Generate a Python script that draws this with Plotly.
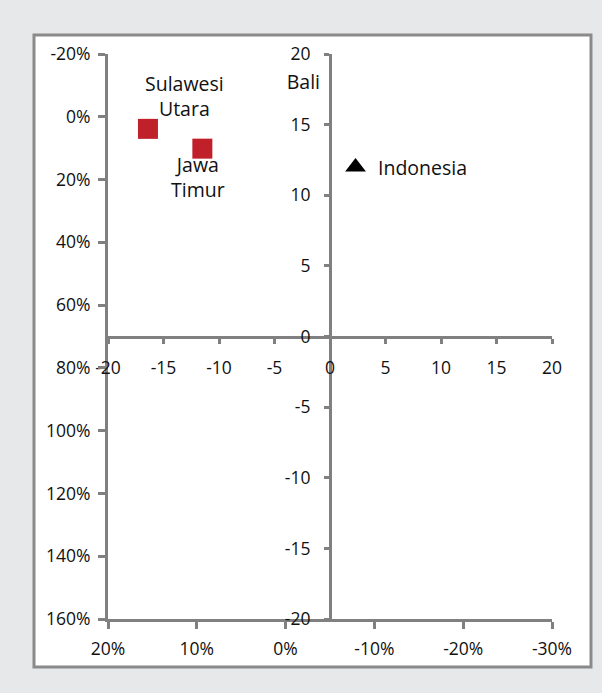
import plotly.graph_objects as go

# --- data ---
regions = ["Sulawesi Utara", "Jawa Timur"]
region_x = [-16.4, -11.5]
region_y = [14.7, 13.3]
national = ["Indonesia"]
national_x = [2.3]
national_y = [12.0]
bali_label = ["Bali"]
bali_x = [-2.4]
bali_y = [17.9]

center_ticks = [-20, -15, -10, -5, 0, 5, 10, 15, 20]
pct_x_ticks = [0.2, 0.1, 0.0, -0.1, -0.2, -0.3]
pct_y_ticks = [-0.2, 0.0, 0.2, 0.4, 0.6, 0.8, 1.0, 1.2, 1.4, 1.6]

center_text = [str(v) for v in center_ticks]
pct_x_text = [f"{round(v * 100)}%" for v in pct_x_ticks]
pct_y_text = [f"{round(v * 100)}%" for v in pct_y_ticks]

GRAY = "#808080"
RED = "#c0202a"
FONT = dict(family="'Open Sans', Lato, sans-serif", size=17.5, color="#111111")
LABEL_FONT = dict(family="'Open Sans', Lato, sans-serif", size=19.5, color="#111111")

fig = go.Figure()

# dummy trace to instantiate the secondary (percent) axes
fig.add_trace(go.Scatter(x=[], y=[], xaxis="x2", yaxis="y2", showlegend=False, hoverinfo="skip"))

fig.add_trace(go.Scatter(
    x=region_x, y=region_y, mode="markers", name="Regions",
    marker=dict(symbol="square", size=20, color=RED), showlegend=False))
fig.add_trace(go.Scatter(
    x=national_x, y=national_y, mode="markers", name="Indonesia",
    marker=dict(symbol="triangle-up", size=18, color="#000000"), showlegend=False))
fig.add_trace(go.Scatter(
    x=bali_x, y=bali_y, mode="text", text=bali_label, textfont=LABEL_FONT,
    showlegend=False))

annotations = []
offsets = {"Sulawesi Utara": (37, 33, "Sulawesi<br>Utara"),
           "Jawa Timur": (-4, -28, "Jawa<br>Timur")}
for name, x, y in zip(regions, region_x, region_y):
    dx, dy, txt = offsets[name]
    annotations.append(dict(x=x, y=y, xref="x", yref="y", text=txt, showarrow=False,
                            xshift=dx, yshift=dy, align="center", font=LABEL_FONT))
for name, x, y in zip(national, national_x, national_y):
    annotations.append(dict(x=x, y=y, xref="x", yref="y", text=name, showarrow=False,
                            xanchor="left", xshift=20, font=LABEL_FONT))

axis_common = dict(showline=True, linecolor=GRAY, linewidth=3, ticks="outside",
                   tickcolor=GRAY, tickwidth=3, showgrid=False, zeroline=False,
                   tickfont=FONT, fixedrange=True)

fig.update_layout(
    width=602, height=693,
    margin=dict(l=108, r=50, t=54, b=74),
    paper_bgcolor="#e7e8ea",
    plot_bgcolor="rgba(0,0,0,0)",
    showlegend=False,
    annotations=annotations,
    xaxis=dict(range=[-20, 20], tickvals=center_ticks, ticktext=center_text,
               anchor="free", position=0.5, ticklen=5, ticklabelstandoff=9, **axis_common),
    yaxis=dict(range=[-20, 20], tickvals=center_ticks, ticktext=center_text,
               anchor="free", position=0.5, ticklen=5, ticklabelstandoff=10, **axis_common),
    xaxis2=dict(range=[0.2, -0.3], tickvals=pct_x_ticks, ticktext=pct_x_text, overlaying="x",
                side="bottom", anchor="y2", ticklen=7, ticklabelstandoff=5, **axis_common),
    yaxis2=dict(range=[1.6, -0.2], tickvals=pct_y_ticks, ticktext=pct_y_text, overlaying="y",
                side="left", anchor="x2", ticklen=7, ticklabelstandoff=4, **axis_common),
    shapes=[dict(type="rect", xref="paper", yref="paper",
                 x0=(34 - 108) / 444, x1=(591 - 108) / 444,
                 y0=(619 - 667) / 565, y1=(619 - 35) / 565,
                 fillcolor="white", line=dict(color="#8a8a8a", width=3), layer="below")],
)

fig.write_html("out.html", config={"displayModeBar": False},
               post_script="document.body.style.margin='0px';")
